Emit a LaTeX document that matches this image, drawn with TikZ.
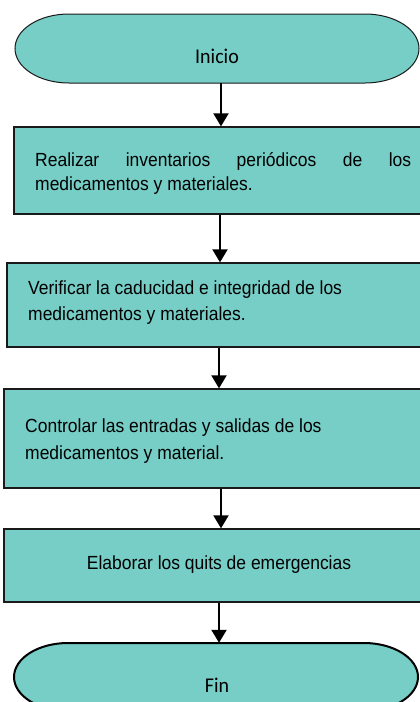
\documentclass[tikz,border=0pt]{standalone}
\usepackage{fontspec}
\setmainfont{Liberation Sans}
\newfontfamily\boxfont[FakeStretch=0.92]{Liberation Sans}
\newfontfamily\termfont[FakeStretch=0.95]{Carlito}
\usetikzlibrary{arrows.meta}
\definecolor{tealfill}{HTML}{76CEC6}
\definecolor{edge}{HTML}{1A1A1A}
\begin{document}
\begin{tikzpicture}[x=1pt,y=1pt,
  stepbox/.style={draw=edge, line width=1.3pt, fill=tealfill, inner sep=0pt},
  termthin/.style={draw=edge, line width=1pt, fill=tealfill},
  termthick/.style={draw=black, line width=2pt, fill=tealfill},
  holder/.style={inner sep=0pt},
  boxtxt/.style={inner sep=0pt, font=\boxfont\fontsize{19}{26}\selectfont},
  termtxt/.style={inner sep=0pt, font=\termfont\fontsize{21}{24}\selectfont},
  arr/.style={draw=black, line width=2pt, -{Triangle[width=15pt,length=13pt]}}]
\useasboundingbox (0,0) rectangle (420,-702);
\clip (0,0) rectangle (420,-702);

% Inicio
\draw[termthin] (69,-14) -- (365,-14) arc[start angle=90,end angle=-90,x radius=54,y radius=34.5]
  -- (69,-83) arc[start angle=270,end angle=90,x radius=54,y radius=34.5] -- cycle;
\node[holder, minimum width=404pt, minimum height=69pt] (inicio) at (217,-48.5) {};
\node[termtxt, anchor=base] (inicioT) at (217,-63) {Inicio};

% Box 1
\node[stepbox, minimum width=408pt, minimum height=87pt] (box1) at (218,-170.5) {};
\node[boxtxt, anchor=base west] (b1a) at (35,-166) {\makebox[376pt][s]{Realizar inventarios periódicos de los}};
\node[boxtxt, anchor=base west] (b1b) at (35,-190) {medicamentos y materiales.};

% Box 2
\node[stepbox, minimum width=415pt, minimum height=84pt] (box2) at (214.5,-305) {};
\node[boxtxt, anchor=base west] (b2a) at (28,-294) {Verificar la caducidad e integridad de los};
\node[boxtxt, anchor=base west] (b2b) at (28,-320) {medicamentos y materiales.};

% Box 3
\node[stepbox, minimum width=418pt, minimum height=99pt] (box3) at (213,-438.5) {};
\node[boxtxt, anchor=base west] (b3a) at (25,-432) {Controlar las entradas y salidas de los};
\node[boxtxt, anchor=base west] (b3b) at (25,-459) {medicamentos y material.};

% Box 4
\node[stepbox, minimum width=418pt, minimum height=73pt] (box4) at (213,-565.5) {};
\node[boxtxt, anchor=base] (b4a) at (219,-569) {Elaborar los quits de emergencias};

% Fin
\draw[termthick] (68,-643) -- (364,-643) arc[start angle=90,end angle=-90,x radius=54,y radius=34]
  -- (68,-711) arc[start angle=270,end angle=90,x radius=54,y radius=34] -- cycle;
\node[holder, minimum width=404pt, minimum height=68pt] (fin) at (216,-677) {};
\node[termtxt, anchor=base] (finT) at (217,-692) {Fin};

% Arrows
\draw[arr] ([xshift=4pt]inicio.south) -- ([xshift=3pt]box1.north);
\draw[arr] ([xshift=2pt]box1.south) -- ([xshift=5.5pt]box2.north);
\draw[arr] ([xshift=4.5pt]box2.south) -- ([xshift=6pt]box3.north);
\draw[arr] ([xshift=8pt]box3.south) -- ([xshift=8pt]box4.north);
\draw[arr] ([xshift=6pt]box4.south) -- ([xshift=3pt]fin.north);
\end{tikzpicture}
\end{document}
